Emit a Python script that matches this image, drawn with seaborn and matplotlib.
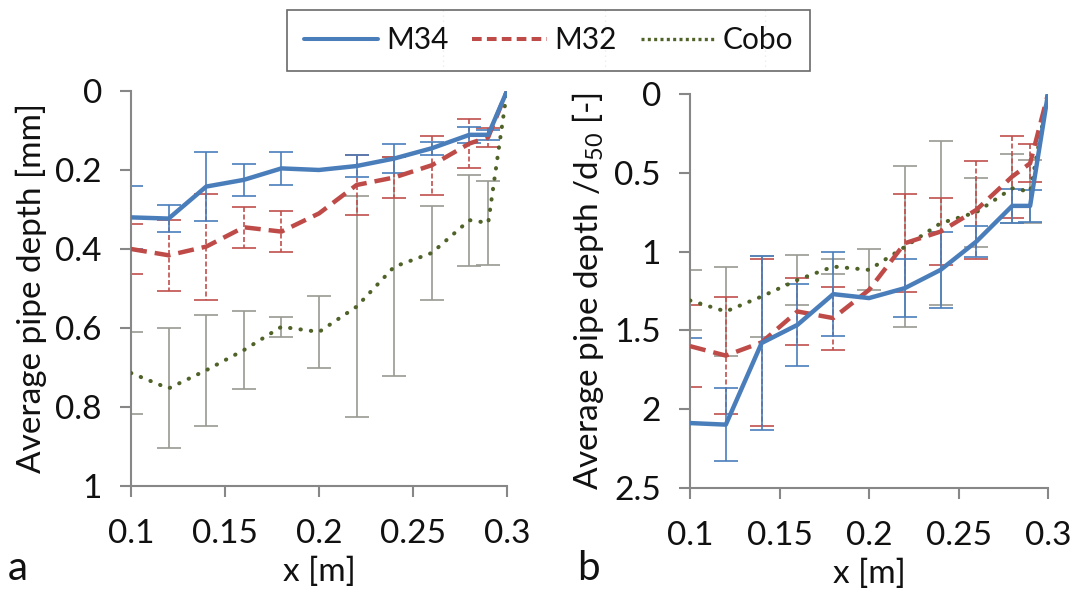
import numpy as np
import pandas as pd
import matplotlib
matplotlib.use("Agg")
import matplotlib.pyplot as plt
from matplotlib.lines import Line2D
import seaborn as sns

# Streamwise positions of the measurements [m]
x_pos = [0.1, 0.12, 0.14, 0.16, 0.18, 0.2, 0.22, 0.24, 0.26, 0.28, 0.29, 0.3]

# Panel a: average pipe depth [mm] with standard deviation
m34_mm = [0.32, 0.323, 0.242, 0.225, 0.196, 0.2, 0.19, 0.171, 0.145, 0.111, 0.111, 0.0]
m34_mm_err = [0.08, 0.035, 0.087, 0.04, 0.042, 0.0, 0.029, 0.037, 0.016, 0.02, 0.013, 0.0]
m32_mm = [0.40, 0.416, 0.394, 0.345, 0.356, 0.31, 0.238, 0.219, 0.188, 0.133, 0.117, 0.0]
m32_mm_err = [0.064, 0.09, 0.134, 0.052, 0.051, 0.0, 0.077, 0.051, 0.075, 0.063, 0.024, 0.0]
cobo_mm = [0.714, 0.753, 0.707, 0.656, 0.597, 0.61, 0.546, 0.445, 0.41, 0.327, 0.334, 0.0]
cobo_mm_err = [0.103, 0.152, 0.141, 0.098, 0.026, 0.092, 0.279, 0.277, 0.118, 0.115, 0.107, 0.0]

# Panel b: average pipe depth normalised by d50 [-]
m34_d50 = [2.088, 2.098, 1.58, 1.465, 1.27, 1.295, 1.232, 1.116, 0.936, 0.71, 0.71, 0.0]
m34_d50_err = [0.54, 0.23, 0.55, 0.26, 0.265, 0.0, 0.186, 0.24, 0.1, 0.11, 0.1, 0.0]
m32_d50 = [1.6, 1.66, 1.576, 1.38, 1.422, 1.243, 0.947, 0.873, 0.735, 0.524, 0.44, 0.0]
m32_d50_err = [0.26, 0.37, 0.53, 0.21, 0.2, 0.0, 0.31, 0.21, 0.31, 0.26, 0.12, 0.0]
cobo_d50 = [1.31, 1.38, 1.285, 1.18, 1.095, 1.116, 0.97, 0.82, 0.75, 0.598, 0.62, 0.0]
cobo_d50_err = [0.19, 0.28, 0.26, 0.16, 0.05, 0.13, 0.51, 0.52, 0.22, 0.22, 0.2, 0.0]

series_names = ["M34", "M32", "Cobo"]
x_ticks = [0.1, 0.15, 0.2, 0.25, 0.3]
x_ticklabels = ["0.1", "0.15", "0.2", "0.25", "0.3"]
ya_ticks = [0, 0.2, 0.4, 0.6, 0.8, 1]
ya_ticklabels = ["0", "0.2", "0.4", "0.6", "0.8", "1"]
yb_ticks = [0, 0.5, 1, 1.5, 2, 2.5]
yb_ticklabels = ["0", "0.5", "1", "1.5", "2", "2.5"]

sns.set_theme(style="white")
plt.rcParams["font.family"] = ["Lato", "DejaVu Sans"]
plt.rcParams["mathtext.fontset"] = "custom"
plt.rcParams["mathtext.rm"] = "Lato"
plt.rcParams["mathtext.it"] = "Lato"

FS = 24
AXIS_GREY = "#878787"
TEXT = "#111111"

styles = {
    "M34": dict(color="#4A7EBB", lw=3.2, ls="-", ecolor="#4A7EBB", els="-"),
    "M32": dict(color="#BE4B48", lw=3.2, ls=(0, (3.6, 1.8)), ecolor="#C0504D", els=(0, (3, 1.5))),
    "Cobo": dict(color="#4F6228", lw=2.9, ls=(0, (0.1, 2.5)), ecolor="#9A9A92", els="-"),
}

fig = plt.figure(figsize=(10.73, 5.90), dpi=100)
ax_a = fig.add_axes([0.1221, 0.1763, 0.3504, 0.6695])
ax_b = fig.add_axes([0.6431, 0.1729, 0.3336, 0.6678])


def draw_panel(ax, values, errors):
    frames = []
    for name in series_names:
        frames.append(pd.DataFrame({"x": x_pos, "depth": values[name], "series": name}))
    df = pd.concat(frames, ignore_index=True)

    # error bars underneath, drawn only where a spread was measured
    for name in series_names[::-1]:
        st = styles[name]
        xv = np.array(x_pos)
        yv = np.array(values[name])
        ev = np.array(errors[name])
        keep = ev > 0
        eb = ax.errorbar(xv[keep], yv[keep], yerr=ev[keep], fmt="none",
                         ecolor=st["ecolor"], elinewidth=1.2, capsize=8.5,
                         capthick=1.2, zorder=2)
        eb[2][0].set_linestyle(st["els"])

    for name in series_names[::-1]:
        st = styles[name]
        sub = df[df["series"] == name]
        capstyle = "round" if name == "Cobo" else "butt"
        sns.lineplot(data=sub, x="x", y="depth", ax=ax, color=st["color"],
                     linewidth=st["lw"], linestyle=st["ls"], legend=False,
                     zorder=3, solid_capstyle="round", dash_capstyle=capstyle,
                     sort=False)

    ax.set_xlim(0.1, 0.3)
    ax.set_xticks(x_ticks)
    ax.set_xticklabels(x_ticklabels)
    ax.set_xlabel("x [m]", fontsize=FS, labelpad=5, color=TEXT)
    for side in ("top", "right"):
        ax.spines[side].set_visible(False)
    for side in ("left", "bottom"):
        ax.spines[side].set_color(AXIS_GREY)
        ax.spines[side].set_linewidth(1.5)
    ax.tick_params(axis="both", which="major", direction="out", length=8,
                   width=1.5, color=AXIS_GREY, labelsize=FS,
                   labelcolor=TEXT, left=True, bottom=True)
    ax.tick_params(axis="y", pad=13)
    ax.tick_params(axis="x", pad=16)
    ax.grid(False)


draw_panel(ax_a,
           {"M34": m34_mm, "M32": m32_mm, "Cobo": cobo_mm},
           {"M34": m34_mm_err, "M32": m32_mm_err, "Cobo": cobo_mm_err})
ax_a.set_ylim(1, 0)
ax_a.set_yticks(ya_ticks)
ax_a.set_yticklabels(ya_ticklabels)
ax_a.set_ylabel("Average pipe depth [mm]", fontsize=FS, labelpad=6, color=TEXT)

draw_panel(ax_b,
           {"M34": m34_d50, "M32": m32_d50, "Cobo": cobo_d50},
           {"M34": m34_d50_err, "M32": m32_d50_err, "Cobo": cobo_d50_err})
ax_b.set_ylim(2.5, 0)
ax_b.set_yticks(yb_ticks)
ax_b.set_yticklabels(yb_ticklabels)
ax_b.set_ylabel("Average pipe depth /d$_{50}$ [-]", fontsize=FS, labelpad=6, color=TEXT)

# panel letters
fig.text(0.007, 0.017, "a", fontsize=29, color=TEXT, va="baseline")
fig.text(0.538, 0.017, "b", fontsize=29, color=TEXT, va="baseline")

# shared legend across the top
handles = [
    Line2D([], [], color=styles["M34"]["color"], lw=2.9, ls="-"),
    Line2D([], [], color=styles["M32"]["color"], lw=2.9, ls=(0, (2.4, 1.3))),
    Line2D([], [], color=styles["Cobo"]["color"], lw=2.4, ls=(0, (0.9, 1.0))),
]
leg = fig.legend(handles, series_names, loc="center", ncol=3,
                 bbox_to_anchor=(0.5112, 0.932), fontsize=21.5,
                 handlelength=2.5, handletextpad=0.25, columnspacing=0.8,
                 frameon=True, fancybox=False, borderpad=0.55,
                 labelcolor=TEXT)
leg.get_frame().set_edgecolor("#444444")
leg.get_frame().set_linewidth(1.2)

# faint dotted guides showing through the legend box
for gx in (443, 605, 765):
    fig.add_artist(Line2D([gx / 1073, gx / 1073], [1 - 10 / 590, 1 - 70 / 590],
                          transform=fig.transFigure, color="#9a9a9a",
                          lw=0.9, ls=(0, (1, 3)), zorder=5))

fig.savefig("out.png", dpi=100)
